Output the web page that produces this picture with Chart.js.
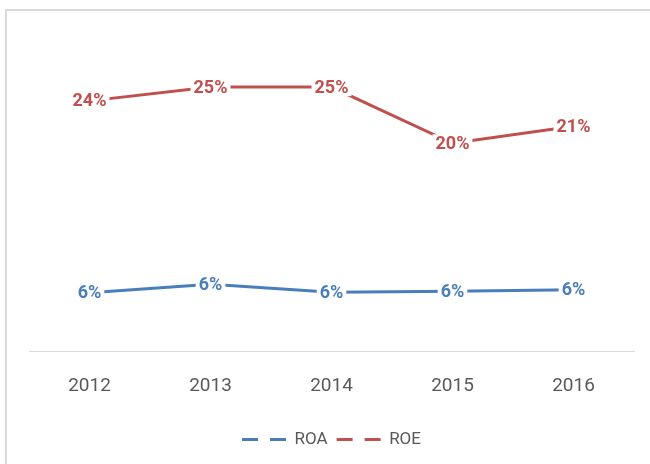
<!DOCTYPE html>
<html>
<head>
<meta charset="utf-8">
<script src="https://cdn.jsdelivr.net/npm/chart.js@4/dist/chart.umd.min.js"></script>
<style>
html,body{margin:0;padding:0;background:#fff;}
#wrap{position:relative;width:650px;height:464px;}
</style>
</head>
<body>
<div id="wrap"><canvas id="c" width="650" height="464"></canvas></div>
<script>
const categories = ['2012', '2013', '2014', '2015', '2016'];
const roaValues = [0.0552, 0.0630, 0.0556, 0.0565, 0.0580];
const roeValues = [0.236, 0.249, 0.249, 0.196, 0.212];
const seriesNames = ['ROA', 'ROE'];
const seriesColors = ['#4A7EBB', '#C0504D'];

const FONT = '"Roboto", "Liberation Sans", sans-serif';

const bgPlugin = {
  id: 'bg',
  beforeDraw(chart) {
    const ctx = chart.ctx;
    ctx.save();
    ctx.fillStyle = '#ffffff';
    ctx.fillRect(0, 0, chart.width, chart.height);
    ctx.fillStyle = '#d9d9d9';
    ctx.fillRect(5, 9, 2, chart.height - 9);
    ctx.fillRect(5, 9, chart.width - 5, 2);
    ctx.restore();
  }
};

const labelPlugin = {
  id: 'valueLabels',
  afterDatasetsDraw(chart) {
    const ctx = chart.ctx;
    ctx.save();
    ctx.font = 'bold 18px ' + FONT;
    ctx.textAlign = 'center';
    ctx.textBaseline = 'middle';
    chart.data.datasets.forEach((ds, di) => {
      const meta = chart.getDatasetMeta(di);
      meta.data.forEach((pt, i) => {
        const txt = Math.round(ds.data[i] * 100) + '%';
        const w = ctx.measureText(txt).width;
        ctx.fillStyle = '#ffffff';
        ctx.fillRect(pt.x - w / 2 - 3, pt.y - 9, w + 6, 18);
        ctx.fillStyle = ds.borderColor;
        ctx.fillText(txt, pt.x, pt.y + 1);
      });
    });
    ctx.restore();
  }
};

new Chart(document.getElementById('c'), {
  type: 'line',
  data: {
    labels: categories,
    datasets: [
      { label: seriesNames[0], data: roaValues, borderColor: seriesColors[0], backgroundColor: seriesColors[0], borderWidth: 3, pointRadius: 0, tension: 0 },
      { label: seriesNames[1], data: roeValues, borderColor: seriesColors[1], backgroundColor: seriesColors[1], borderWidth: 3, pointRadius: 0, tension: 0 }
    ]
  },
  options: {
    responsive: false,
    animation: false,
    devicePixelRatio: 1,
    layout: { padding: { left: 29, right: 16, top: 33, bottom: 6 } },
    scales: {
      x: {
        offset: true,
        grid: { display: false, drawTicks: false },
        border: { display: true, color: '#d9d9d9', width: 1 },
        ticks: { color: '#595959', font: { family: FONT, size: 19 }, padding: 24 }
      },
      y: {
        display: false,
        min: 0,
        max: 0.30
      }
    },
    plugins: {
      tooltip: { enabled: false },
      legend: {
        position: 'bottom',
        labels: {
          usePointStyle: true,
          pointStyleWidth: 44,
          boxHeight: 10,
          padding: 9,
          color: '#595959',
          font: { family: FONT, size: 17 },
          generateLabels(chart) {
            return chart.data.datasets.map((ds, i) => ({
              text: ds.label,
              fillStyle: ds.borderColor,
              strokeStyle: ds.borderColor,
              lineWidth: 3,
              lineDash: [16, 12],
              pointStyle: 'line',
              hidden: false,
              datasetIndex: i,
              fontColor: '#595959'
            }));
          }
        }
      }
    }
  },
  plugins: [bgPlugin, labelPlugin]
});
</script>
</body>
</html>
